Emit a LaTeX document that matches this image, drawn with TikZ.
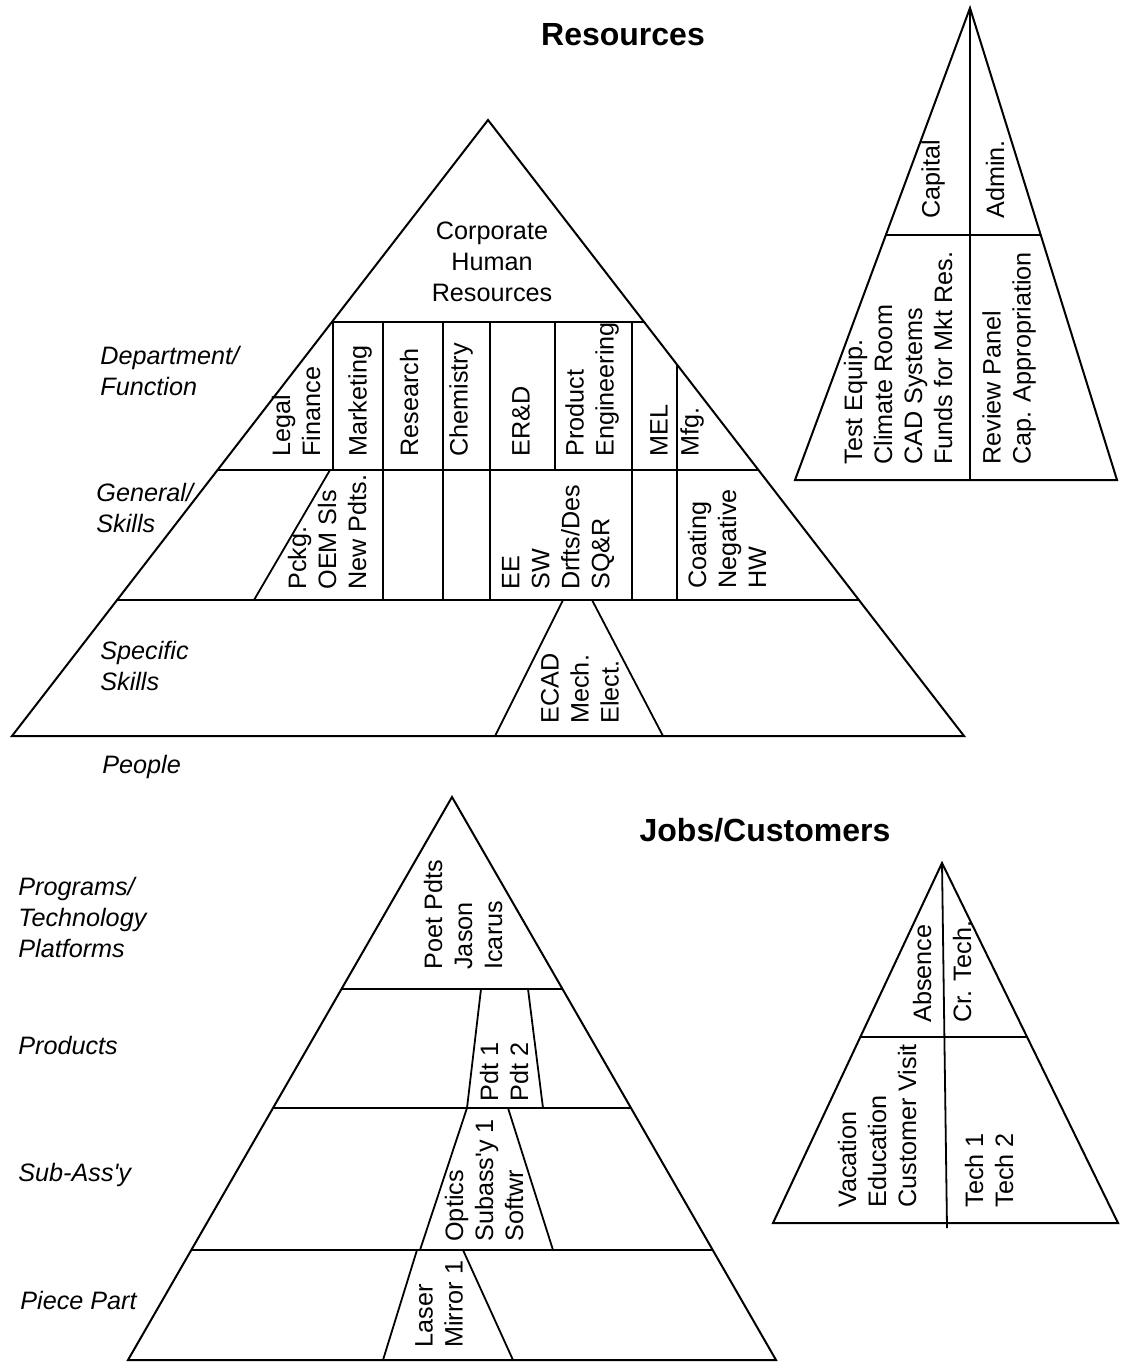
\documentclass[tikz,border=0pt]{standalone}
\usepackage{fontspec}
\setmainfont{Liberation Sans}
\usetikzlibrary{calc}

\begin{document}
\begin{tikzpicture}[
    x=0.5pt, y=-0.5pt,
    edge/.style={line width=1pt, line join=miter},
    cut/.style={line width=0.9pt},
    cell/.style={rotate=90, anchor=west, align=left, inner sep=0pt, font=\fontsize{12.6}{15}\selectfont},
    tier/.style={anchor=west, align=left, inner sep=0pt, font=\fontsize{12.6}{15.5}\selectfont\itshape},
    heading/.style={inner sep=0pt, font=\fontsize{16}{19}\selectfont\bfseries},
]
\useasboundingbox (0,0) rectangle (1120,1363);

% people pyramid
\coordinate (pa) at (488,120);
\draw[edge] (pa) -- (12,736) -- (964,736) -- cycle;
\draw[cut] (332,322) -- (644,322);
\draw[cut] (218,470) -- (758,470);
\draw[cut] (117,600) -- (859,600);
% department columns
\foreach \x in {333,383,443,490,555,632}
    \draw[cut] (\x,322) -- (\x,470);
\draw[cut] (677,365) -- (677,470);
% general skills columns
\draw[cut] (330,470) -- (254,600);
\foreach \x in {383,443,490,632,677}
    \draw[cut] (\x,470) -- (\x,600);
% specific skills wedge
\draw[cut] (563,600) -- (495,736);
\draw[cut] (592,600) -- (663,736);

\node[heading] (res) at (623,35) {Resources};
\node[align=center, inner sep=0pt, font=\fontsize{12.6}{15.5}\selectfont] (hr) at (492,262) {Corporate\\Human\\Resources};

\node[cell] (legal) at (296,457) {Legal\\Finance};
\node[cell] (mktg) at (360,457) {Marketing};
\node[cell] (rsch) at (409,457) {Research};
\node[cell] (chem) at (461,457) {Chemistry};
\node[cell] (erd) at (521,457) {ER\&D};
\node[cell] (prod) at (592,457) {Product\\Engineering};
\node[cell] (mel) at (659,457) {MEL};
\node[cell] (mfg) at (692,457) {Mfg.};

\node[cell] (pckg) at (327,590) {Pckg.\\OEM Sls\\New Pdts.};
\node[cell] (ee) at (558,590) {EE\\SW\\Drfts/Des\\SQ\&R};
\node[cell] (coat) at (727,589) {Coating\\Negative\\HW};
\node[cell] (ecad) at (580,724) {ECAD\\Mech.\\Elect.};

\node[tier] (dept) at (100,371) {Department/\\Function};
\node[tier] (gen) at (96,508) {General/\\Skills};
\node[tier] (spec) at (100,666) {Specific\\Skills};
\node[tier] (ppl) at (102,767) {People};

% capital / admin triangle
\coordinate (ca) at (970,8);
\draw[edge] (ca) -- (795,480) -- (1117,480) -- cycle;
\draw[cut] (ca) -- (970,480);
\draw[cut] (886,235) -- (1041,235);
\node[cell] (cap) at (933,219) {Capital};
\node[cell] (adm) at (995,219) {Admin.};
\node[cell] (equip) at (898,465) {Test Equip.\\Climate Room\\CAD Systems\\Funds for Mkt Res.};
\node[cell] (panel) at (1009,465) {Review Panel\\Cap. Appropriation};

% jobs pyramid
\coordinate (ja) at (452,797);
\draw[edge] (ja) -- (128,1360) -- (776,1360) -- cycle;
\draw[cut] (341,989) -- (563,989);
\draw[cut] (273,1108) -- (631,1108);
\draw[cut] (191,1250) -- (713,1250);
\draw[cut] (481,989) -- (467,1108);
\draw[cut] (528,989) -- (543,1108);
\draw[cut] (467,1108) -- (420,1250);
\draw[cut] (508,1108) -- (553,1250);
\draw[cut] (417,1250) -- (383,1360);
\draw[cut] (463,1250) -- (513,1360);

\node[heading] (jobs) at (765,830) {Jobs/Customers};
\node[cell] (poet) at (463,970) {Poet Pdts\\Jason\\Icarus};
\node[cell] (pdt) at (504,1102) {Pdt 1\\Pdt 2};
\node[cell] (optics) at (484,1242) {Optics\\Subass\textquotesingle y 1\\Softwr};
\node[cell] (laser) at (439,1348) {Laser\\Mirror 1};

\node[tier] (prog) at (18,917) {Programs/\\Technology\\Platforms};
\node[tier] (prods) at (18,1045) {Products};
\node[tier] (sub) at (18,1175) {Sub-Ass\textquotesingle y};
\node[tier] (piece) at (20,1300) {Piece Part};

% absence / technician triangle
\coordinate (ta) at (942,863);
\draw[edge] (ta) -- (773,1223) -- (1118,1223) -- cycle;
\draw[cut] (ta) -- (947,1228);
\draw[cut] (860,1037) -- (1027,1037);
\node[cell] (abs) at (922,1023) {Absence};
\node[cell] (crt) at (962,1023) {Cr. Tech.};
\node[cell] (vac) at (877,1208) {Vacation\\Education\\Customer Visit};
\node[cell] (tech) at (989,1208) {Tech 1\\Tech 2};

\end{tikzpicture}
\end{document}
